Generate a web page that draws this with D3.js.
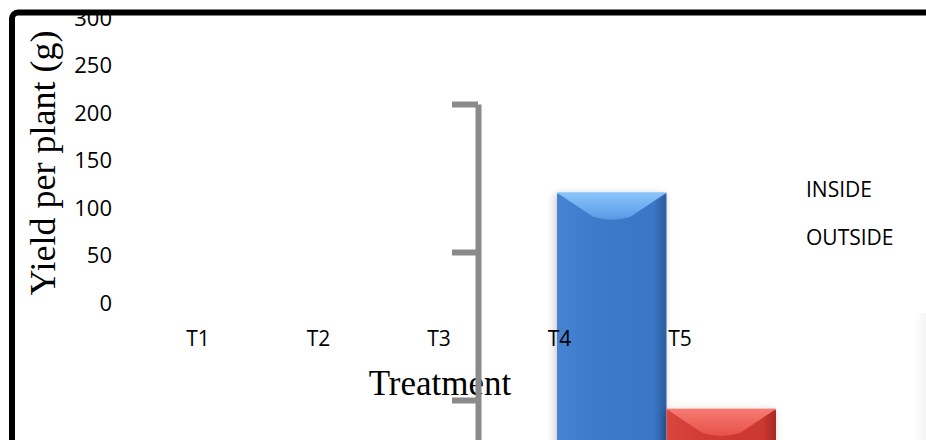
<!DOCTYPE html>
<html>
<head>
<meta charset="utf-8">
<script src="https://cdn.jsdelivr.net/npm/d3@7"></script>
<style>
  html, body { margin: 0; padding: 0; background: #fff; }
  svg { display: block; }
</style>
</head>
<body>
<script>
// Treatment categories and the yield ticks shown on the left
const treatments = ["T1", "T2", "T3", "T4", "T5"];
const yieldTicks = [0, 50, 100, 150, 200, 250, 300];

// Series shown in the legend and their bar values (g per plant)
const series = ["INSIDE", "OUTSIDE"];
const seriesValues = [170, 97];

// Ticks on the grey value axis
const valueTicks = [100, 150, 200];

const W = 926, H = 440;
const svg = d3.select("body").append("svg")
  .attr("width", W).attr("height", H);

const defs = svg.append("defs");

// Shading for the bevelled bars
const palettes = {
  INSIDE:  { body: ["#4683d2", "#3d7acb", "#3a76c6", "#2c5c9c"], topA: "#8ac6fc", topB: "#5798e3" },
  OUTSIDE: { body: ["#d9463f", "#d13b34", "#cc3730", "#a52a24"], topA: "#f87a72", topB: "#e5524b" }
};
series.forEach((s, i) => {
  const p = palettes[s];
  const g = defs.append("linearGradient").attr("id", "body" + i)
    .attr("x1", 0).attr("x2", 1).attr("y1", 0).attr("y2", 0);
  g.append("stop").attr("offset", "0%").attr("stop-color", p.body[0]);
  g.append("stop").attr("offset", "35%").attr("stop-color", p.body[1]);
  g.append("stop").attr("offset", "88%").attr("stop-color", p.body[2]);
  g.append("stop").attr("offset", "100%").attr("stop-color", p.body[3]);
  const t = defs.append("linearGradient").attr("id", "top" + i)
    .attr("x1", 0).attr("x2", 0).attr("y1", 0).attr("y2", 1);
  t.append("stop").attr("offset", "0%").attr("stop-color", p.topA);
  t.append("stop").attr("offset", "100%").attr("stop-color", p.topB);
});

const shadow = defs.append("filter").attr("id", "barShadow")
  .attr("x", "-30%").attr("y", "-30%").attr("width", "160%").attr("height", "160%");
shadow.append("feDropShadow").attr("dx", -2).attr("dy", 2)
  .attr("stdDeviation", 4).attr("flood-color", "#000").attr("flood-opacity", 0.22);

const edgeShade = defs.append("linearGradient").attr("id", "edgeShade")
  .attr("x1", 0).attr("x2", 1).attr("y1", 0).attr("y2", 0);
edgeShade.append("stop").attr("offset", "0%").attr("stop-color", "#fff");
edgeShade.append("stop").attr("offset", "100%").attr("stop-color", "#f5f5f5");

const labelFont = "'Open Sans', 'Liberation Sans', sans-serif";
const titleFont = "'Liberation Serif', 'DejaVu Serif', serif";

// Left yield labels (no axis line)
const yLabels = d3.scaleLinear().domain([0, 300]).range([303, 18]);
svg.append("g").selectAll("text").data(yieldTicks).join("text")
  .attr("x", 112).attr("y", d => yLabels(d))
  .attr("dy", "0.36em")
  .attr("text-anchor", "end")
  .attr("font-family", labelFont).attr("font-size", 22).attr("fill", "#000")
  .text(d => d);

// Axis titles
svg.append("text")
  .attr("transform", "translate(55,163) rotate(-90)")
  .attr("text-anchor", "middle")
  .attr("font-family", titleFont).attr("font-size", 36).attr("fill", "#000")
  .text("Yield per plant (g)");

svg.append("text")
  .attr("x", 440).attr("y", 395)
  .attr("text-anchor", "middle")
  .attr("font-family", titleFont).attr("font-size", 35).attr("fill", "#000")
  .text("Treatment");

// Grey value axis
const yVal = d3.scaleLinear().domain([0, 200]).range([696, 104]);
const valAxis = svg.append("g").attr("transform", "translate(478,0)")
  .call(d3.axisLeft(yVal).tickValues(valueTicks).tickSize(26).tickSizeOuter(0).tickFormat(""));
valAxis.select(".domain").attr("stroke", "#8a8a8a").attr("stroke-width", 6);
valAxis.selectAll(".tick line").attr("stroke", "#8a8a8a").attr("stroke-width", 6);

// Bevelled bars
const xBar = d3.scaleBand().domain(series).range([557, 776]).padding(0);
const bevel = 24;
const bars = svg.append("g").selectAll("g").data(series).join("g")
  .attr("filter", "url(#barShadow)");
bars.each(function (s, i) {
  const g = d3.select(this);
  const x0 = xBar(s), w = xBar.bandwidth();
  const yTop = yVal(seriesValues[i]), yBase = yVal(0);
  g.append("rect")
    .attr("x", x0).attr("y", yTop).attr("width", w).attr("height", yBase - yTop)
    .attr("fill", `url(#body${i})`);
  g.append("path")
    .attr("d", `M${x0},${yTop}L${x0 + w},${yTop}L${x0 + w - bevel * 1.5},${yTop + bevel}` +
               `Q${x0 + w / 2},${yTop + bevel * 1.25} ${x0 + bevel * 1.5},${yTop + bevel}Z`)
    .attr("fill", `url(#top${i})`);
  g.append("line")
    .attr("x1", x0).attr("x2", x0 + w).attr("y1", yTop + 0.5).attr("y2", yTop + 0.5)
    .attr("stroke", palettes[s].topA).attr("stroke-width", 1.5).attr("opacity", 0.9);
});

// Treatment labels, drawn over the bars
const xCat = d3.scalePoint().domain(treatments).range([198, 680]);
svg.append("g").selectAll("text").data(treatments).join("text")
  .attr("x", d => xCat(d)).attr("y", 346)
  .attr("text-anchor", "middle")
  .attr("font-family", labelFont).attr("font-size", 21).attr("fill", "#000")
  .text(d => d);

// Legend entries
svg.append("g").selectAll("text").data(series).join("text")
  .attr("x", 806).attr("y", (d, i) => 197 + i * 48)
  .attr("font-family", labelFont).attr("font-size", 21).attr("fill", "#000")
  .text(d => d);

// Faint edge on the far right
svg.append("rect").attr("x", 914).attr("y", 313).attr("width", 12).attr("height", 127)
  .attr("fill", "url(#edgeShade)");

// Outer black frame
svg.append("rect")
  .attr("x", 12).attr("y", 12.5).attr("width", 1200).attr("height", 1200)
  .attr("rx", 6)
  .attr("fill", "none").attr("stroke", "#000").attr("stroke-width", 6);
</script>
</body>
</html>
